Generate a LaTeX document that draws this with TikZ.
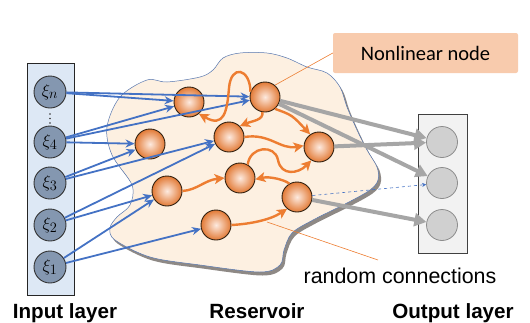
\documentclass[tikz,border=0pt]{standalone}
\usepackage{fontspec}
\setmainfont{Liberation Sans}
\newfontfamily\calib{Carlito}
\usetikzlibrary{arrows.meta,shadows}
\definecolor{inblue}{HTML}{DDE8F5}
\definecolor{inode}{HTML}{8497B0}
\definecolor{lblue}{HTML}{4472C4}
\definecolor{orng}{HTML}{ED7D31}
\definecolor{ballin}{HTML}{FDEADF}
\definecolor{ballout}{HTML}{E27A36}
\definecolor{cloudc}{HTML}{FDF0E1}
\definecolor{cloudsh}{HTML}{8E8985}
\definecolor{grayarr}{HTML}{A6A6A6}
\definecolor{onodec}{HTML}{D0D0D0}
\definecolor{calloutc}{HTML}{F8CBAD}
\tikzset{
  inp/.style={circle,minimum size=32pt,inner sep=0pt,fill=inode,draw=black!80,line width=0.9pt,font=\fontsize{19}{19}\selectfont},
  res/.style={circle,minimum size=30pt,inner sep=0pt,inner color=ballin,outer color=ballout,draw=black!75!brown,line width=0.9pt},
  outn/.style={circle,minimum size=31pt,inner sep=0pt,fill=onodec,draw=black!45,line width=0.8pt},
  barr/.style={draw=lblue,line width=1.8pt,-{Stealth[length=9pt,width=8pt]}},
  oarr/.style={draw=orng,line width=2.4pt,-{Stealth[length=10pt,width=10pt,inset=2.5pt]}},
  garr/.style={draw=grayarr,line width=4pt,-{Triangle[length=12pt,width=13pt]}},
  thinor/.style={draw=orng,line width=0.6pt},
  lbl/.style={font=\fontsize{20.6}{22}\selectfont\bfseries,anchor=base}
}
\begin{document}
\begin{tikzpicture}[x=1pt,y=-1pt]
\useasboundingbox (0,0) rectangle (530,322);
% cloud shadow + cloud
\def\cloudpts{(147,80) (167,82) (200,77) (213,70) (223,58) (240,53) (267,53) (287,58) (307,67) (327,73) (340,87) (347,107) (357,130) (367,150) (377,167) (378,180) (370,190) (347,203) (313,220) (292,233) (284,250) (280,265) (260,272) (200,265) (150,257) (115,240) (110,228) (117,217) (130,205) (132,185) (112,155) (107,127) (120,97)}
\fill[cloudsh,shift={(2.5,3.5)}] plot[smooth cycle,tension=0.55] coordinates {\cloudpts};
\filldraw[fill=cloudc,draw=lblue!70!gray,line width=0.5pt] plot[smooth cycle,tension=0.55] coordinates {\cloudpts};
% layers
\filldraw[fill=inblue,draw=black!85,line width=1pt] (27,63) rectangle (74,295);
\filldraw[fill=black!5,draw=black!75,line width=0.9pt] (418,114) rectangle (467,253);
% callout
\node[fill=calloutc,rounded corners=2pt,minimum width=185pt,minimum height=40pt,inner sep=0pt,font=\calib\fontsize{20.5}{22}\selectfont] (nl) at (425.5,53) {Nonlinear node};
% input nodes
\node[inp] (xn) at (50,92) {$\xi_n$};
\node[inp] (x4) at (50,142) {$\xi_4$};
\node[inp] (x3) at (50,183) {$\xi_3$};
\node[inp] (x2) at (50,225) {$\xi_2$};
\node[inp] (x1) at (50,267) {$\xi_1$};
\fill[black!80] (50,114) circle (0.9pt) (50,118.5) circle (0.9pt) (50,123) circle (0.9pt);
% reservoir nodes
\node[res] (A) at (189,102) {};
\node[res] (B) at (265,97) {};
\node[res] (C) at (229,137) {};
\node[res] (D) at (150,144) {};
\node[res] (E) at (319,147) {};
\node[res] (F) at (167,191) {};
\node[res] (G) at (240,178) {};
\node[res] (H) at (297,197) {};
\node[res] (I) at (216,225) {};
% output nodes
\node[outn] (o1) at (442,142) {};
\node[outn] (o2) at (442,183) {};
\node[outn] (o3) at (442,225) {};
% input connections
\draw[barr] (xn) -- (A);
\draw[barr] (xn) -- (B);
\draw[barr] (x4) -- (A);
\draw[barr] (x4) -- (B);
\draw[barr] (x4) -- (D);
\draw[barr] (x3) -- (D);
\draw[barr] (x3) -- (C);
\draw[barr] (x2) -- (C);
\draw[barr] (x2) -- (F);
\draw[barr] (x1) -- (F);
\draw[barr] (x1) -- (I);
% output connections
\draw[garr] (B) -- (o1);
\draw[garr] (B) -- (o2);
\draw[garr] (E) -- (o1);
\draw[garr] (H) -- (o3);
\draw[draw=lblue,line width=0.6pt,dashed,-{Stealth[length=4pt,width=4pt]}] (H) -- (o2);
% internal connections
\draw[oarr] (B.160) .. controls (250,68) and (231,64) .. (229,88) .. controls (227,112) and (224,128) .. (A.-50);
\draw[oarr] (B.-100) .. controls (264,120) and (252,121) .. (C.45);
\draw[oarr] (B.-50) .. controls (292,115) .. (E.125);
\draw[oarr] (C.0) .. controls (270,133) and (280,150) .. (E.175);
\draw[oarr] (G.60) .. controls (250,146) and (275,144) .. (278,160) .. controls (281,176) and (298,174) .. (E.-120);
\draw[oarr] (H.120) .. controls (285,180) and (270,176) .. (G.-5);
\draw[oarr] (F.0) .. controls (197,190) and (205,180) .. (G.180);
\draw[oarr] (I.0) .. controls (250,224) and (270,220) .. (H.-130);
% annotation lines
\draw[thinor] (B.50) -- (nl.west);
\coordinate (rc1) at (267,222);
\coordinate (rc2) at (378,260);
\draw[thinor] (rc1) -- (rc2);
\node[font=\fontsize{21.4}{24}\selectfont,anchor=base] (rc) at (400,283) {random connections};
% labels
\node[lbl] (lin) at (65,318) {Input layer};
\node[lbl] (lres) at (257,318) {Reservoir};
\node[lbl] (lout) at (453,318) {Output layer};
\end{tikzpicture}
\end{document}
